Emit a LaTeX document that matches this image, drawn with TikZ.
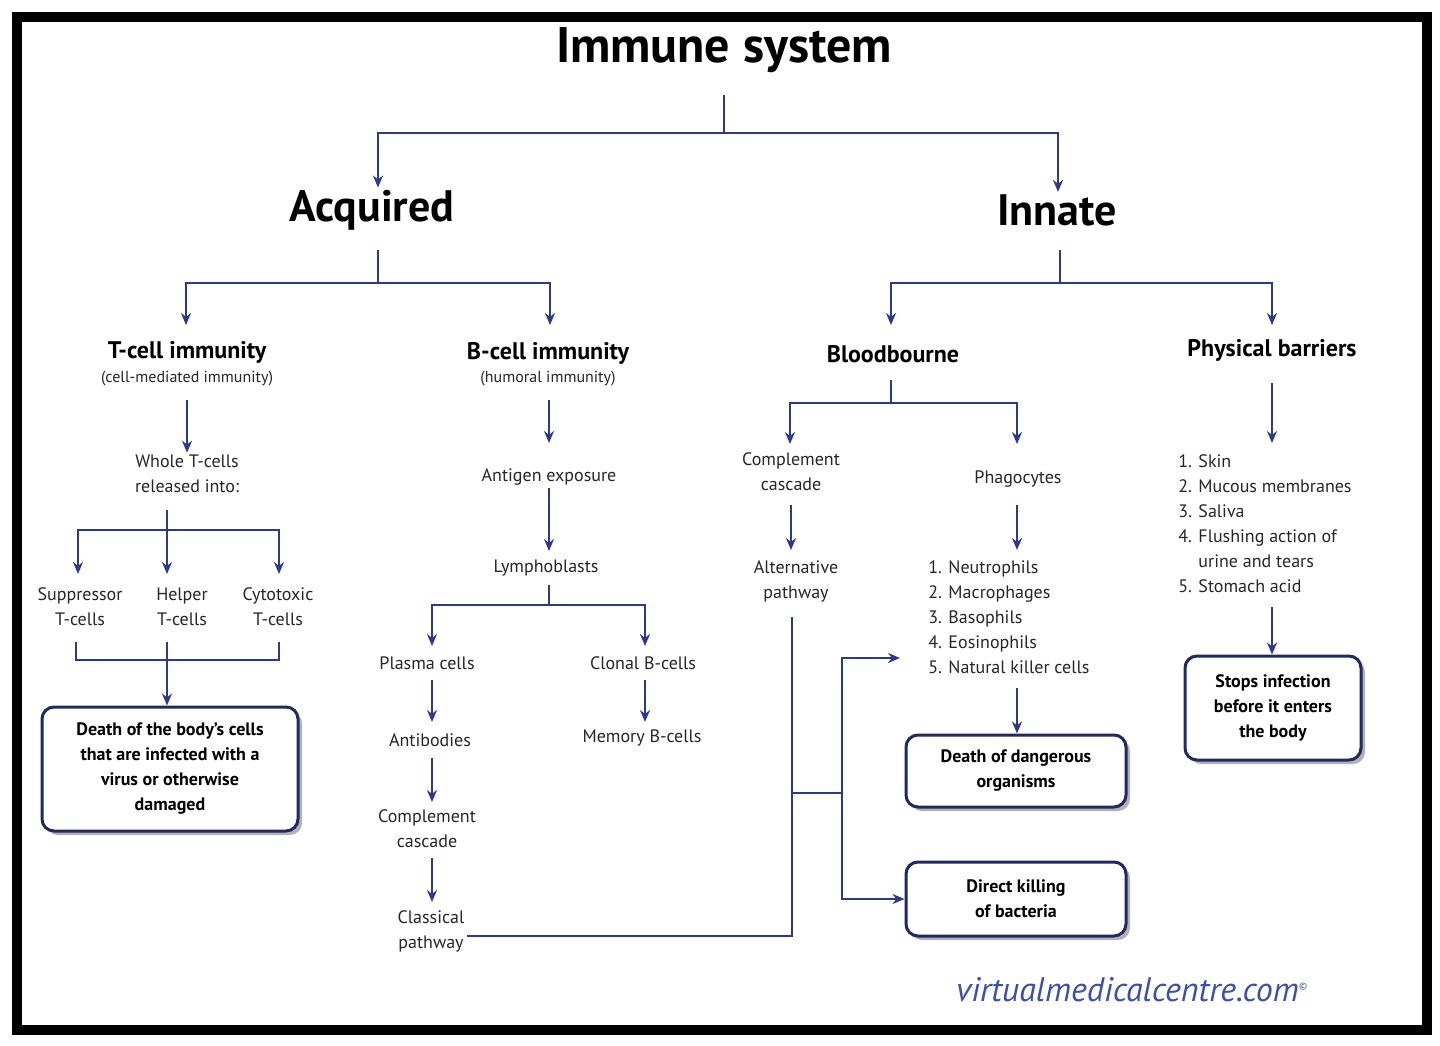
\documentclass[tikz,border=0pt]{standalone}
\usepackage{fontspec}
\setmainfont{PT Sans}
\usetikzlibrary{arrows.meta,shadows}
\definecolor{conn}{RGB}{45,58,140}
\definecolor{mark}{RGB}{60,80,170}
\begin{document}
\begin{tikzpicture}[x=0.5pt,y=-0.5pt,
  ln/.style={draw=conn,line width=1.3pt},
  arr/.style={ln,-{Stealth[length=6pt,width=5pt]}},
  lbl/.style={font=\fontsize{9}{12.5}\selectfont,align=center,inner sep=1pt,text=black!85},
  lst/.style={font=\fontsize{9}{12.5}\selectfont,align=left,inner sep=1pt,anchor=west,text=black!85},
  hd/.style={font=\fontsize{12}{14}\selectfont\bfseries,inner sep=1pt},
  big/.style={font=\fontsize{22}{26}\selectfont\bfseries,inner sep=1pt},
  box/.style={draw=conn!70!black,line width=1.5pt,rounded corners=6pt,fill=white,
    font=\fontsize{9}{12.5}\selectfont\bfseries,align=center,
    drop shadow={shadow xshift=2pt,shadow yshift=-2pt,fill=black!60}}]
\useasboundingbox (0,0) rectangle (1440,1045);
\fill[white] (0,0) rectangle (1440,1045);
\draw[line width=5pt] (17,17) rectangle (1427,1030);

\node[font=\fontsize{25}{30}\selectfont\bfseries] (top) at (724,50) {Immune system};
\node[big] (acq) at (372,210) {Acquired};
\node[big] (inn) at (1057,210) {Innate};
\draw[ln] (724,95) -- (724,133) coordinate (j0);
\draw[arr] (j0) -| (acq.north -| 378,0);
\draw[arr] (j0) -| (inn.north -| 1058,0);

% Acquired
\node[hd] (tc) at (187,352) {T-cell immunity};
\node[lbl,font=\fontsize{8}{10}\selectfont] (tcs) at (187,379) {(cell-mediated immunity)};
\node[hd] (bc) at (548,353) {B-cell immunity};
\node[lbl,font=\fontsize{8}{10}\selectfont] (bcs) at (548,379) {(humoral immunity)};
\draw[ln] (378,250) -- (378,283) coordinate (j1);
\draw[arr] (j1) -| (186,325);
\draw[arr] (j1) -| (550,325);

% T cell branch
\node[lbl] (wt) at (187,474) {Whole T-cells\\released into:};
\draw[arr] (187,400) -- (wt.north);
\node[lbl] (sup) at (80,607) {Suppressor\\T-cells};
\node[lbl] (help) at (182,607) {Helper\\T-cells};
\node[lbl] (cyt) at (278,607) {Cytotoxic\\T-cells};
\draw[ln] (167,510) -- (167,530) coordinate (j2);
\draw[arr] (j2) -- (167,574);
\draw[arr] (j2) -| (78,574);
\draw[arr] (j2) -| (279,574);
\node[box,minimum width=128pt,minimum height=62pt] (death) at (170,769) {Death of the body's cells\\that are infected with a\\virus or otherwise\\damaged};
\draw[ln] (76,642) |- (279,660) -- (279,642);
\draw[arr] (167,642) -- (death.north -| 167,0);

% B cell branch
\node[lbl] (ag) at (549,477) {Antigen exposure};
\draw[arr] (549,400) -- (549,443);
\node[lbl] (lym) at (546,568) {Lymphoblasts};
\draw[arr] (ag.south) -- (549,551);
\draw[ln] (549,585) -- (549,605) coordinate (j3);
\node[lbl] (pl) at (427,663) {Plasma cells};
\node[lbl] (cl) at (643,663) {Clonal B-cells};
\draw[arr] (j3) -| (432,646);
\draw[arr] (j3) -| (645,646);
\node[lbl] (ab) at (430,740) {Antibodies};
\draw[arr] (432,680) -- (432,722);
\node[lbl] (cc1) at (427,829) {Complement\\cascade};
\draw[arr] (432,758) -- (432,802);
\node[lbl] (cp) at (431,931) {Classical\\pathway};
\draw[arr] (432,858) -- (432,902);
\node[lbl] (mem) at (642,738) {Memory B-cells};
\draw[arr] (645,680) -- (645,722);

% Innate
\node[hd] (bb) at (893,354) {Bloodbourne};
\node[hd] (pb) at (1272,350) {Physical barriers};
\draw[ln] (1060,250) -- (1060,283) coordinate (j4);
\draw[arr] (j4) -| (891,325);
\draw[arr] (j4) -| (1272,325);

\draw[ln] (891,380) -- (891,403) coordinate (j5);
\node[lbl] (cc2) at (791,472) {Complement\\cascade};
\node[lbl] (ph) at (1018,479) {Phagocytes};
\draw[arr] (j5) -| (790,444);
\draw[arr] (j5) -| (1017,444);
\node[lbl] (alt) at (796,581) {Alternative\\pathway};
\draw[arr] (791,505) -- (791,550);
\draw[arr] (1017,505) -- (1017,550);
\node[lst] (phl) at (926,617) {1. Neutrophils\\2. Macrophages\\3. Basophils\\4. Eosinophils\\5. Natural killer cells};
\node[box,minimum width=110pt,minimum height=36pt] (dd) at (1016,771) {Death of dangerous\\organisms};
\draw[arr] (1017,688) -- (dd.north -| 1017,0);
\node[box,minimum width=110pt,minimum height=37pt] (dk) at (1016,899) {Direct killing\\of bacteria};

\draw[ln] (cp.east |- 0,936) -- (792,936) -- (792,617);
\draw[ln] (792,793) -- (842,793);
\draw[arr] (842,793) |- (900,658);
\draw[arr] (842,793) |- (dk.west);

\node[lst] (pbl) at (1176,524) {1. Skin\\2. Mucous membranes\\3. Saliva\\4. Flushing action of\\\phantom{4. }urine and tears\\5. Stomach acid};
\draw[arr] (1272,383) -- (1272,443);
\node[box,minimum width=88pt,minimum height=52pt] (si) at (1273,708) {Stops infection\\before it enters\\the body};
\draw[arr] (1272,607) -- (si.north -| 1272,0);

\node[font=\fontsize{17}{20}\selectfont\itshape,text=mark] (wm) at (1132,990) {virtualmedicalcentre.com\textsuperscript{\tiny\textcopyright}};
\end{tikzpicture}
\end{document}
